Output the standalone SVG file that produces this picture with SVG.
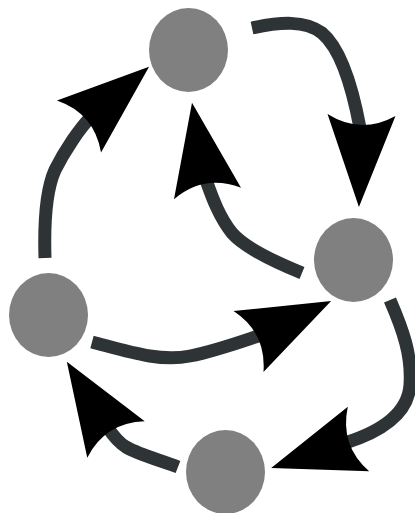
<svg xmlns="http://www.w3.org/2000/svg" xmlns:xlink="http://www.w3.org/1999/xlink" width="415" height="513" viewBox="0 0 415 513">
<style>
.node{fill:#808080}
.edge{fill:none;stroke:#2e3436;stroke-width:13}
.head{fill:#000}
</style>
<defs>
<path id="head" class="head" d="M92,0 L0,-34 Q20,0 0,34 Z"/>
</defs>
<rect width="415" height="513" fill="#fff"/>
<g id="connectors">
<path class="edge" d="M252,28 C280,22 305,20 322,33 C340,48 352,85 360,128"/>
<use xlink:href="#head" href="#head" transform="translate(361.5,115) rotate(91.6)"/>
<path class="edge" d="M302,273 C275,262 245,248 232,233 C220,218 213,200 206,180"/>
<use xlink:href="#head" href="#head" transform="translate(207.5,193.5) rotate(-99.7)"/>
<path class="edge" d="M45,258 C44,225 46,190 55,170 C65,150 80,128 90,118"/>
<use xlink:href="#head" href="#head" transform="translate(79,126.5) rotate(-40.4)"/>
<path class="edge" d="M92,342 C130,352 160,362 190,356 C215,351 240,342 261,335"/>
<use xlink:href="#head" href="#head" transform="translate(248.5,341.5) rotate(-26.1)"/>
<path class="edge" d="M390,300 C403,330 412,355 410,385 C408,415 380,432 345,443"/>
<use xlink:href="#head" href="#head" transform="translate(358.5,439) rotate(161.7)"/>
<path class="edge" d="M178,467 C160,460 140,455 126,447 C118,442 112,434 108,428"/>
<use xlink:href="#head" href="#head" transform="translate(116,439.5) rotate(-122.3)"/>
</g>
<g id="node-top"><ellipse class="node" cx="188.5" cy="50" rx="39.5" ry="42"/></g>
<g id="node-right"><ellipse class="node" cx="353.5" cy="260" rx="39.5" ry="42"/></g>
<g id="node-left"><ellipse class="node" cx="48.5" cy="315" rx="39.5" ry="42"/></g>
<g id="node-bottom"><ellipse class="node" cx="225.5" cy="472" rx="39.5" ry="42"/></g>
</svg>
